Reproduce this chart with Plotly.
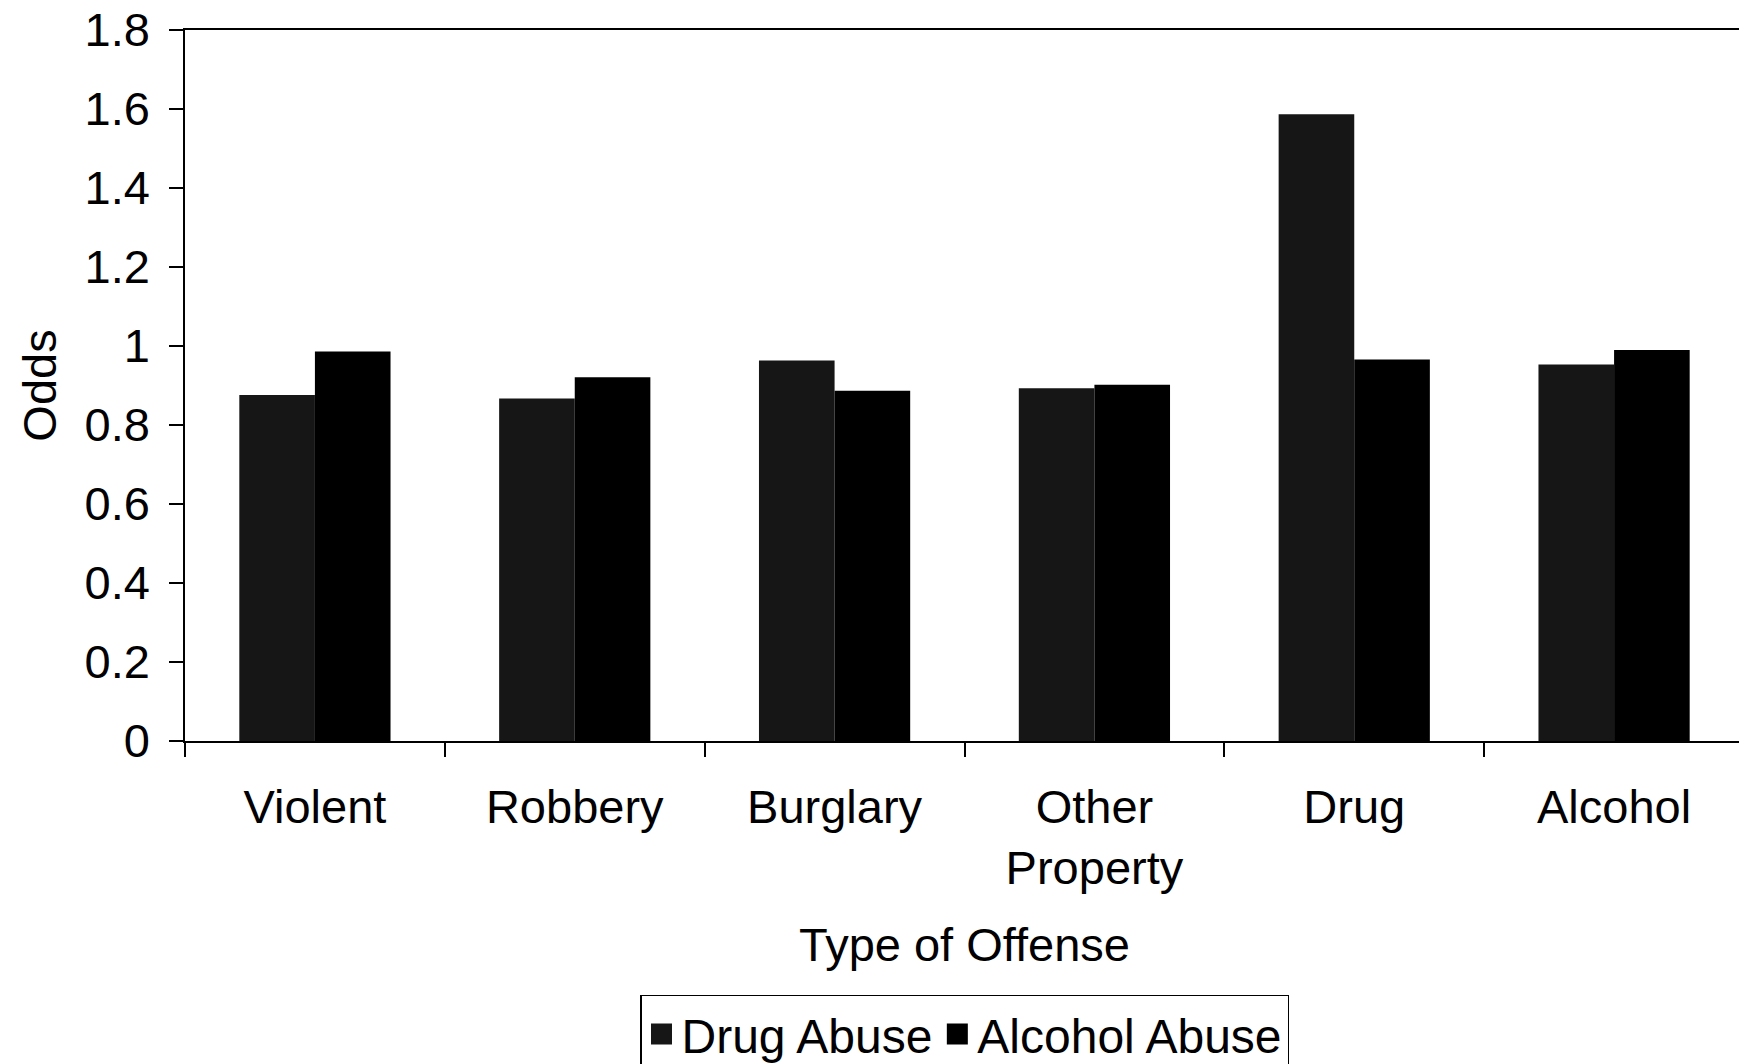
import plotly.graph_objects as go

categories = ["Violent", "Robbery", "Burglary", "Other<br>Property", "Drug", "Alcohol"]
drug_abuse = [0.876, 0.867, 0.963, 0.893, 1.587, 0.953]
alcohol_abuse = [0.986, 0.921, 0.887, 0.902, 0.966, 0.990]
y_ticks = [0, 0.2, 0.4, 0.6, 0.8, 1, 1.2, 1.4, 1.6, 1.8]
series_names = ["Drug Abuse", "Alcohol Abuse"]
series_colors = ["#161616", "#000000"]

FONT = "Liberation Sans, Arial, sans-serif"
FS = 47

fig = go.Figure()
for name, vals, col in zip(series_names, [drug_abuse, alcohol_abuse], series_colors):
    fig.add_trace(go.Bar(name=name, x=categories, y=vals, showlegend=False,
                         marker=dict(color=col, line=dict(width=0))))
# legend entries with larger square swatches
for name, col in zip(series_names, series_colors):
    fig.add_trace(go.Scatter(name=name, x=[None], y=[None], mode="markers",
                             marker=dict(symbol="square", size=16, color=col,
                                         line=dict(color=col, width=5)),
                             showlegend=True, hoverinfo="skip"))

fig.update_layout(
    width=1747, height=1064,
    margin=dict(l=177, r=11, t=22, b=331, autoexpand=False),
    paper_bgcolor="white", plot_bgcolor="white",
    barmode="group", bargap=0.418, bargroupgap=0,
    font=dict(family=FONT, size=FS, color="black"),
    showlegend=True,
    legend=dict(orientation="h", x=0.5, xanchor="center", y=-0.357, yanchor="top",
                bordercolor="black", borderwidth=1.5, bgcolor="white",
                font=dict(size=48), itemwidth=30, itemsizing="trace", tracegroupgap=0),
)
fig.update_xaxes(
    type="category", tickson="boundaries", ticks="outside", ticklen=14,
    tickwidth=1.5, tickcolor="black", automargin=False,
    showline=True, linecolor="black", linewidth=1.5, mirror=True,
    showgrid=False, tickfont=dict(size=FS), ticklabelstandoff=24,
    ticklabeloverflow="allow",
    title=dict(text="Type of Offense", font=dict(size=FS), standoff=35),
)
fig.update_yaxes(
    range=[0, 1.8], tickvals=y_ticks, ticktext=[f"{v:g}" for v in y_ticks],
    ticks="outside", ticklen=14, tickwidth=1.5, tickcolor="black", automargin=False,
    showline=True, linecolor="black", linewidth=1.5, mirror=True,
    showgrid=False, zeroline=False, tickfont=dict(size=FS), ticklabelstandoff=10,
    ticklabeloverflow="allow",
    title=dict(text="Odds", font=dict(size=FS), standoff=13),
)

fig.write_html("out.html")
